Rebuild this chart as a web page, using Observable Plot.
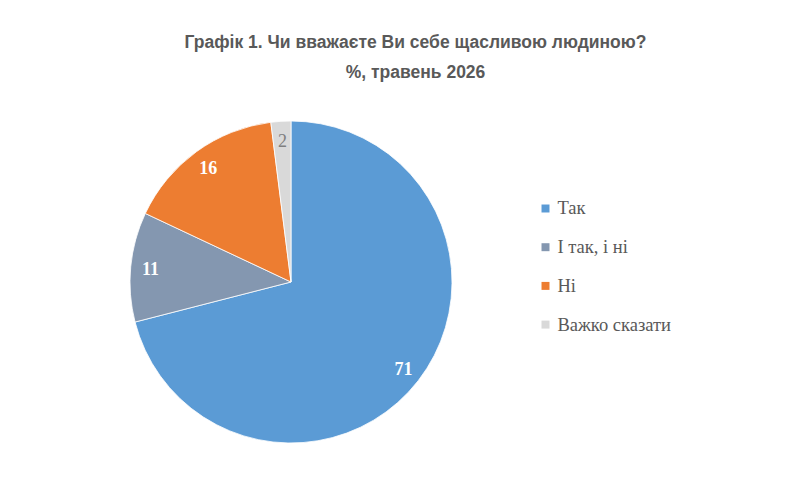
<!DOCTYPE html>
<html><head><meta charset="utf-8">
<script src="https://cdn.jsdelivr.net/npm/d3@7"></script>
<script src="https://cdn.jsdelivr.net/npm/@observablehq/plot@0.6"></script>
<style>html,body{margin:0;padding:0;background:#fff;}</style>
</head><body><div id="chart"></div>
<script>
const categories = ["Так", "І так, і ні", "Ні", "Важко сказати"];
const values = [71, 11, 16, 2];
const colors = ["#5B9BD5", "#8497B0", "#ED7D31", "#D9D9D9"];
const labelColors = ["#ffffff", "#ffffff", "#ffffff", "#7f7f7f"];
const labelBold = [true, true, true, false];
const title = "Графік 1. Чи вважаєте Ви себе щасливою людиною?";
const subtitle = "%, травень 2026";

const W = 808, H = 477;
const cx = 291, cy = 282, R = 161;
const data = categories.map((c, i) => ({category: c, value: values[i], color: colors[i], labelColor: labelColors[i], bold: labelBold[i], i}));
const arcs = d3.pie().sort(null).value(d => d.value)(data);
const arcGen = d3.arc().innerRadius(0).outerRadius(R);
const labelArc = d3.arc().innerRadius(R * 0.88).outerRadius(R * 0.88);
const labels = arcs.map(a => {
  const [lx, ly] = labelArc.centroid(a);
  return {x: cx + lx, y: cy + ly, text: String(a.data.value), color: a.data.labelColor, bold: a.data.bold};
});
const legend = data.map((d, i) => ({x: 545, y: 208 + i * 38.7, text: d.category, color: d.color}));

function pieMark(index, scales, vals, dims) {
  const g = d3.create("svg:g");
  const x0 = scales.x(cx), y0 = scales.y(cy);
  g.selectAll("path").data(arcs).join("path")
    .attr("transform", `translate(${x0},${y0})`)
    .attr("d", arcGen)
    .attr("fill", d => d.data.color)
    .attr("stroke", "#fff").attr("stroke-width", 0.8);
  return g.node();
}

const chart = Plot.plot({
  width: W, height: H, margin: 0,
  x: {domain: [0, W], range: [0, W], axis: null},
  y: {domain: [0, H], range: [0, H], axis: null},
  style: {background: "#fff"},
  marks: [
    pieMark,
    Plot.text(labels.filter(d => d.bold), {x: "x", y: "y", text: "text", fill: d => d.color, fontFamily: "Liberation Serif", fontWeight: "bold", fontSize: 18}),
    Plot.text(labels.filter(d => !d.bold), {x: "x", y: "y", text: "text", fill: d => d.color, fontFamily: "Liberation Serif", fontWeight: "normal", fontSize: 18}),
    Plot.dot(legend, {x: "x", y: "y", symbol: "square", r: 4.5, fill: "color", stroke: null}),
    Plot.text(legend, {x: d => d.x + 12, y: "y", text: "text", textAnchor: "start", fill: "#595959", fontFamily: "Liberation Serif", fontSize: 18.5}),
    Plot.text([title], {x: 415, y: 42, text: d => d, fill: "#595959", fontFamily: "Liberation Sans", fontWeight: "bold", fontSize: 17.5}),
    Plot.text([subtitle], {x: 415, y: 72, text: d => d, fill: "#595959", fontFamily: "Liberation Sans", fontWeight: "bold", fontSize: 17.5})
  ]
});
document.getElementById("chart").appendChild(chart);
</script></body></html>
